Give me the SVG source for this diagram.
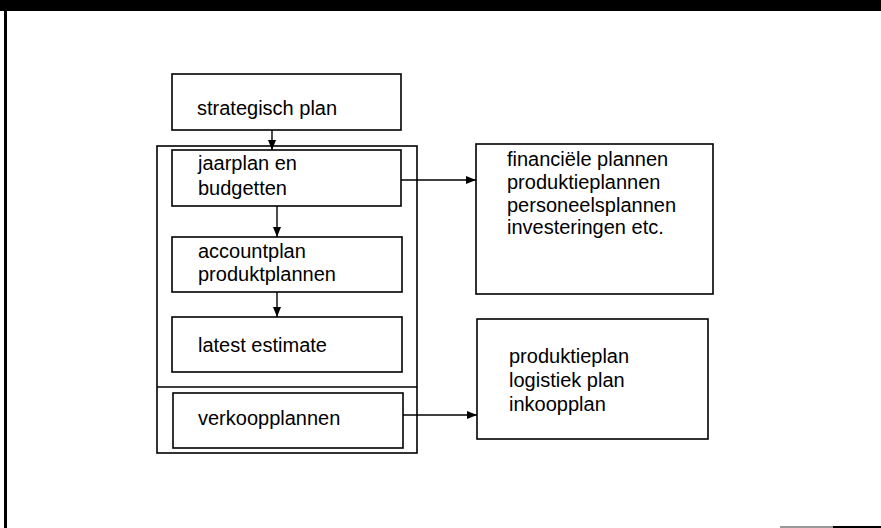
<svg xmlns="http://www.w3.org/2000/svg" width="881" height="528" viewBox="0 0 881 528">
<defs>
<style>
.box{fill:#fff;stroke:#000;stroke-width:1.6}
.frame{fill:none;stroke:#000;stroke-width:1.6}
.t{font-family:"Liberation Sans",Arial,sans-serif;font-size:20px;fill:#000}
.conn{fill:none;stroke:#000;stroke-width:1.4}
</style>
<marker id="ah" viewBox="0 0 10 8" refX="10" refY="4" markerWidth="10" markerHeight="8" markerUnits="userSpaceOnUse" orient="auto">
<path d="M0,0 L10,4 L0,8 z" fill="#000"/>
</marker>
</defs>
<rect x="0" y="0" width="881" height="528" fill="#fff"/>
<rect x="0" y="0" width="881" height="11" fill="#000"/>
<rect x="4" y="11" width="3" height="517" fill="#000"/>
<line x1="780" y1="527" x2="833" y2="527" stroke="#999" stroke-width="2"/>
<line x1="833" y1="527" x2="881" y2="527" stroke="#000" stroke-width="2"/>

<g id="container">
<rect class="frame" x="157" y="146" width="260" height="307"/>
<line class="frame" x1="157" y1="387" x2="417" y2="387"/>
</g>

<g id="strategisch">
<rect class="box" x="172" y="74" width="229" height="56"/>
<text class="t" x="197" y="115">strategisch plan</text>
</g>

<g id="jaarplan">
<rect class="box" x="172" y="150" width="229" height="56"/>
<text class="t" x="198" y="170">jaarplan en</text>
<text class="t" x="198" y="195">budgetten</text>
</g>

<g id="accountplan">
<rect class="box" x="172" y="237" width="230" height="55"/>
<text class="t" x="198" y="258">accountplan</text>
<text class="t" x="198" y="281">produktplannen</text>
</g>

<g id="latest">
<rect class="box" x="172" y="317" width="230" height="55"/>
<text class="t" x="198" y="352">latest estimate</text>
</g>

<g id="verkoop">
<rect class="box" x="173" y="393" width="230" height="55"/>
<text class="t" x="198" y="425">verkoopplannen</text>
</g>

<g id="plannen">
<rect class="box" x="476" y="144" width="237" height="150"/>
<text class="t" x="507" y="166">financiële plannen</text>
<text class="t" x="507" y="189">produktieplannen</text>
<text class="t" x="507" y="212">personeelsplannen</text>
<text class="t" x="507" y="234">investeringen etc.</text>
</g>

<g id="logistiek">
<rect class="box" x="477" y="319" width="231" height="120"/>
<text class="t" x="509" y="363">produktieplan</text>
<text class="t" x="509" y="387">logistiek plan</text>
<text class="t" x="509" y="411">inkoopplan</text>
</g>

<g id="connectors">
<line class="conn" x1="272" y1="130" x2="272" y2="150" marker-end="url(#ah)"/>
<line class="conn" x1="277" y1="206" x2="277" y2="237" marker-end="url(#ah)"/>
<line class="conn" x1="277" y1="292" x2="277" y2="317" marker-end="url(#ah)"/>
<line class="conn" x1="401" y1="180" x2="476" y2="180" marker-end="url(#ah)"/>
<line class="conn" x1="403" y1="415" x2="477" y2="415" marker-end="url(#ah)"/>
</g>
</svg>
